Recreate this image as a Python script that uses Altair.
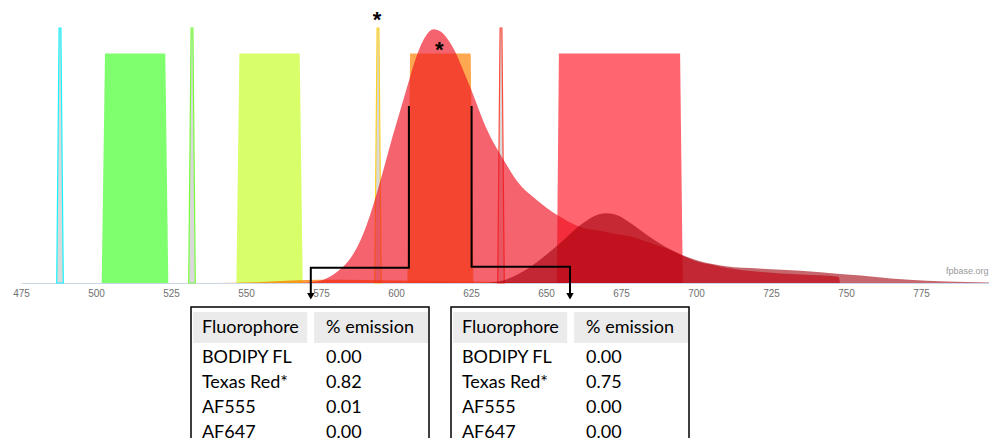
import altair as alt
import pandas as pd

# ---------------- data ----------------
AXIS_TICKS = [475, 500, 525, 550, 575, 600, 625, 650, 675, 700, 725, 750, 775, 800]

# filters (bandpass trapezoids): wavelength edges, transmission
FILTER_WL = [
    [501.9, 503.0, 523.1, 524.1],
    [546.8, 547.8, 567.9, 568.9],
    [603.8, 604.7, 624.9, 625.8],
    [653.6, 654.3, 694.7, 695.6],
]
FILTER_T = [0.0, 0.9, 0.9, 0.0]
FILTER_COLORS = ["#20ff00", "#beff07", "#ff8100", "#ff0010"]
FILTER_OPACITY = [0.57, 0.6, 0.69, 0.6]

# laser lines (nm)
LASER_NM = [488, 532, 594, 635]
LASER_COLORS = ["#00f4ff", "#6cff2a", "#ffcf10", "#ff3a2a"]

# emission spectra (as plotted, relative)
TR_WL = [568, 572, 576, 581, 585, 589, 592, 595, 599, 602, 604, 606, 608, 610, 612.5, 615, 617,
         620, 622, 625, 630, 636, 641, 647, 654, 662, 668, 672, 679, 684, 690, 695,
         701, 706, 710, 721, 735, 747.5, 748]
TR_EM = [0.0, 0.004, 0.014, 0.05, 0.1, 0.19, 0.29, 0.41, 0.58, 0.7, 0.78, 0.86, 0.925, 0.97, 0.995, 0.985, 0.96,
         0.90, 0.845, 0.76, 0.61, 0.48, 0.39, 0.325, 0.265, 0.218, 0.205, 0.195, 0.18, 0.16, 0.136, 0.11,
         0.082, 0.07, 0.06, 0.044, 0.033, 0.025, 0.0]

AF647_WL = [630, 635, 639, 645, 650, 656, 662, 666, 670, 674, 679, 684, 690, 695, 701,
            710, 721, 735, 748, 755, 765, 777, 790, 800]
AF647_EM = [0.0, 0.008, 0.025, 0.065, 0.11, 0.17, 0.232, 0.262, 0.274, 0.265, 0.228, 0.185, 0.14, 0.112, 0.086,
            0.066, 0.057, 0.048, 0.035, 0.029, 0.018, 0.009, 0.004, 0.001]

AF555_WL = [540, 555, 565, 575, 590, 600, 625, 650, 690]
AF555_EM = [0.0, 0.004, 0.01, 0.013, 0.012, 0.01, 0.006, 0.002, 0.0]

# tables
FLUOROPHORES = ["BODIPY FL", "Texas Red*", "AF555", "AF647"]
EMISSION_LEFT = ["0.00", "0.82", "0.01", "0.00"]
EMISSION_RIGHT = ["0.00", "0.75", "0.00", "0.00"]
HEADERS = ["Fluorophore", "% emission"]

# ---------------- layout (data units: nm / relative intensity) ----------------
PLOT_H = 430
PLOT_W = 968
X_MIN, X_MAX = 475, 475 + PLOT_W / 3
Y_MIN, Y_MAX = -(PLOT_H - 275) / 255, 275 / 255

xscale = alt.Scale(domain=[X_MIN, X_MAX], nice=False, zero=False)
yscale = alt.Scale(domain=[Y_MIN, Y_MAX], nice=False, zero=False)
xaxis = alt.Axis(values=AXIS_TICKS, title=None, grid=False, ticks=False, offset=-(PLOT_H - 275),
                 domainColor="#ccd6eb", domainWidth=1, labelColor="#707070", labelFontSize=10,
                 labelFont="Liberation Sans", labelPadding=5, labelFlush=False)
X = alt.X("wl:Q", scale=xscale, axis=xaxis)
Y = alt.Y("v:Q", scale=yscale, axis=None, stack=None)

layers = []


def area(wl, vals, color, opacity, stroke=None, fill=None, interp="linear"):
    df = pd.DataFrame({"wl": wl, "v": vals})
    kw = dict(clip=True, interpolate=interp)
    if stroke:
        kw.update(fill=fill, fillOpacity=opacity, stroke=stroke, strokeWidth=1.2, strokeOpacity=0.9)
    else:
        kw.update(color=color, opacity=opacity)
    return alt.Chart(df).mark_area(**kw).encode(x=X, y=Y)


# axis carrier
layers.append(alt.Chart(pd.DataFrame({"wl": [X_MIN], "v": [0.0]})).mark_point(opacity=0).encode(x=X, y=Y))

for wl, col, op in zip(FILTER_WL, FILTER_COLORS, FILTER_OPACITY):
    layers.append(area(wl, FILTER_T, col, op))

for nm, col in zip(LASER_NM, LASER_COLORS):
    layers.append(area([nm - 1.1, nm - 0.3, nm + 0.3, nm + 1.1], [0, 1, 1, 0], None, 0.6,
                       stroke=col, fill="#c0c0c0"))

layers.append(area(AF555_WL, AF555_EM, "#ff7a00", 0.75, interp="monotone"))
layers.append(area(TR_WL, TR_EM, "#ee1020", 0.65, interp="monotone"))
layers.append(area(AF647_WL, AF647_EM, "#a0000c", 0.6, interp="monotone"))

# asterisks
ast = pd.DataFrame({"wl": [593.7, 614.4], "v": [1.03, 0.915], "t": ["*", "*"]})
layers.append(alt.Chart(ast).mark_text(fontSize=22, fontWeight="bold", font="Liberation Sans",
                                       color="black", baseline="middle").encode(x=X, y=Y, text="t:N"))

# watermark
wm = pd.DataFrame({"wl": [797.5], "v": [0.047], "t": ["fpbase.org"]})
layers.append(alt.Chart(wm).mark_text(fontSize=9, font="Liberation Sans", color="#999999",
                                      align="right", baseline="middle").encode(x=X, y=Y, text="t:N"))

# connectors
TABLE_SHIFT = 260 / 3
conn = pd.DataFrame({
    "wl": [604.3, 604.3, 571.6, 571.6, 625.2, 625.2, 658.0, 658.0],
    "v": [0.694, 0.06, 0.06, -0.05, 0.694, 0.064, 0.064, -0.05],
    "g": ["L"] * 4 + ["R"] * 4,
    "o": [0, 1, 2, 3, 0, 1, 2, 3],
})
layers.append(alt.Chart(conn).mark_line(color="black", strokeWidth=2).encode(
    x=X, y=Y, detail="g:N", order="o:Q"))
heads = pd.DataFrame({"wl": [571.6, 658.0], "v": [-0.052, -0.052]})
layers.append(alt.Chart(heads).mark_point(shape="triangle-down", filled=True, color="black",
                                          size=55, opacity=1).encode(x=X, y=Y))

# tables
box_rows, cell_rows, text_rows = [], [], []
ROW_V = [-0.294, -0.392, -0.490, -0.588]
for k, vals in enumerate([EMISSION_LEFT, EMISSION_RIGHT]):
    s = k * TABLE_SHIFT
    box_rows.append({"x1": 531.67 + s, "x2": 611.0 + s, "y1": -0.094, "y2": -0.8})
    cell_rows.append({"x1": 532.4 + s, "x2": 570.4 + s, "y1": -0.114, "y2": -0.235})
    cell_rows.append({"x1": 572.7 + s, "x2": 610.7 + s, "y1": -0.114, "y2": -0.235})
    text_rows.append({"wl": 535.3 + s, "v": -0.176, "t": HEADERS[0]})
    text_rows.append({"wl": 576.7 + s, "v": -0.176, "t": HEADERS[1]})
    for name, val, rv in zip(FLUOROPHORES, vals, ROW_V):
        text_rows.append({"wl": 535.3 + s, "v": rv, "t": name})
        text_rows.append({"wl": 576.7 + s, "v": rv, "t": val})

layers.append(alt.Chart(pd.DataFrame(cell_rows)).mark_rect(color="#ebebeb").encode(
    x=alt.X("x1:Q", scale=xscale, axis=xaxis), x2="x2:Q",
    y=alt.Y("y1:Q", scale=yscale, axis=None), y2="y2:Q"))
layers.append(alt.Chart(pd.DataFrame(box_rows)).mark_rect(fillOpacity=0, stroke="black", strokeWidth=1.5).encode(
    x=alt.X("x1:Q", scale=xscale, axis=xaxis), x2="x2:Q",
    y=alt.Y("y1:Q", scale=yscale, axis=None), y2="y2:Q"))
layers.append(alt.Chart(pd.DataFrame(text_rows)).mark_text(
    font="Lato", fontSize=18, color="black", align="left", baseline="middle").encode(
    x=X, y=Y, text="t:N"))

chart = alt.layer(*layers).properties(
    width=PLOT_W, height=PLOT_H, autosize=alt.AutoSizeParams(type="none"),
    padding={"left": 13, "top": 0, "right": 0, "bottom": 0},
).configure_view(stroke=None)

chart.save("out.html", embed_options={"renderer": "svg", "actions": False})
